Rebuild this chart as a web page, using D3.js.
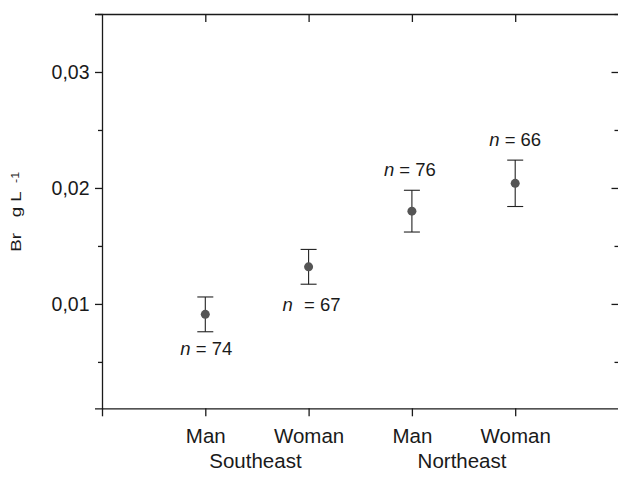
<html>
<script src='https://d3js.org/d3.v7.min.js'></script>
<style>
 body {margin:0; background:#fff;}
 text {font-family: Arial, "Liberation Sans", sans-serif; fill:#1a1a1a;}
 .domain, .tick line {stroke:#1a1a1a; stroke-width:1.3;}
</style>
<body onload='init()'>
<svg width=618 height=481></svg>
<script>
// categories and values
var groups = ["Man", "Woman", "Man", "Woman"];
var regions = ["Southeast", "Northeast"];
var means = [0.0091, 0.0132, 0.0180, 0.0204];
var errs = [0.0015, 0.0015, 0.0018, 0.0020];
var counts = ["74", "67", "76", "66"];
var yTicks = [0.01, 0.02, 0.03];
var yMinor = [0.005, 0.015, 0.025, 0.035];

function init() {
  var svg = d3.select("svg");

  var x = d3.scaleLinear().domain([0, 5]).range([102, 618.5]);
  var y = d3.scaleLinear().domain([0.001, 0.035]).range([408.3, 14]);

  var fmt = function (d) { return d3.format(".2f")(d).replace(".", ","); };

  // left axis, major + minor
  svg.append("g")
    .attr("transform", "translate(102,0)")
    .call(d3.axisLeft(y).tickValues(yTicks).tickSize(7).tickPadding(5.5).tickFormat(fmt))
    .call(g => g.selectAll("text").style("font-size", "19.5px"));
  svg.append("g")
    .attr("transform", "translate(102,0)")
    .call(d3.axisLeft(y).tickValues(yMinor).tickSize(4).tickFormat(""))
    .call(g => g.select(".domain").remove());

  // right axis, ticks inward
  svg.append("g")
    .attr("transform", "translate(618.5,0)")
    .call(d3.axisRight(y).tickValues(yTicks).tickSizeInner(-7).tickSizeOuter(0).tickFormat(""));
  svg.append("g")
    .attr("transform", "translate(618.5,0)")
    .call(d3.axisRight(y).tickValues(yMinor).tickSize(-4).tickFormat(""))
    .call(g => g.select(".domain").remove());

  // bottom axis
  var bottom = svg.append("g")
    .attr("transform", "translate(0,408.3)")
    .call(d3.axisBottom(x).tickValues([0, 1, 2, 3, 4]).tickSizeInner(8).tickSizeOuter(0)
      .tickFormat(d => d > 0 ? groups[d - 1] : ""));
  bottom.selectAll("text")
    .attr("y", 34.5).attr("dy", 0)
    .style("font-size", "20.5px");

  // top axis, ticks inward
  svg.append("g")
    .attr("transform", "translate(0,14)")
    .call(d3.axisTop(x).tickValues([1, 2, 3, 4]).tickSizeInner(-8).tickSizeOuter(0).tickFormat(""));

  // region labels
  svg.append("g").selectAll("text")
    .data(regions)
    .enter().append("text")
    .attr("x", (d, i) => x(1.5 + 2 * i) - 1.5)
    .attr("y", 468)
    .attr("text-anchor", "middle")
    .style("font-size", "20.5px")
    .text(d => d);

  // y label (stretched like the original)
  var yl = svg.append("g").attr("transform", "translate(21,251.7) rotate(-90) scale(1.25,1)");
  yl.append("text")
    .style("white-space", "pre")
    .style("font-size", "15px")
    .text("Br   g L");
  yl.append("text")
    .attr("x", 55).attr("y", -2)
    .style("font-size", "10px")
    .text("-1");

  var pts = svg.append("g").selectAll("g")
    .data(means)
    .enter().append("g");

  // error bars
  pts.append("line")
    .attr("x1", (d, i) => x(i + 1)).attr("x2", (d, i) => x(i + 1))
    .attr("y1", (d, i) => y(d + errs[i])).attr("y2", (d, i) => y(d - errs[i]))
    .attr("stroke", "#222").attr("stroke-width", 1.1);
  pts.append("line")
    .attr("x1", (d, i) => x(i + 1) - 8).attr("x2", (d, i) => x(i + 1) + 8)
    .attr("y1", (d, i) => y(d + errs[i])).attr("y2", (d, i) => y(d + errs[i]))
    .attr("stroke", "#222").attr("stroke-width", 1.1);
  pts.append("line")
    .attr("x1", (d, i) => x(i + 1) - 8).attr("x2", (d, i) => x(i + 1) + 8)
    .attr("y1", (d, i) => y(d - errs[i])).attr("y2", (d, i) => y(d - errs[i]))
    .attr("stroke", "#222").attr("stroke-width", 1.1);

  pts.append("circle")
    .attr("cx", (d, i) => x(i + 1))
    .attr("cy", d => y(d))
    .attr("r", 4.5)
    .attr("fill", "#555");

  // n labels: below for the first two, above for the last two
  var lab = pts.append("text")
    .attr("x", (d, i) => x(i + 1) + [1, 3, -2, 0][i])
    .attr("y", (d, i) => i < 2 ? y(d - errs[i]) + [23.5, 26.5][i] : y(d + errs[i]) - 14)
    .attr("text-anchor", "middle")
    .style("font-size", "18.5px");
  lab.append("tspan").style("font-style", "italic").text("n");
  lab.append("tspan").attr("dx", (d, i) => i == 1 ? 6 : 0).text((d, i) => " = " + counts[i]);
}
</script>
</body>
</html>
